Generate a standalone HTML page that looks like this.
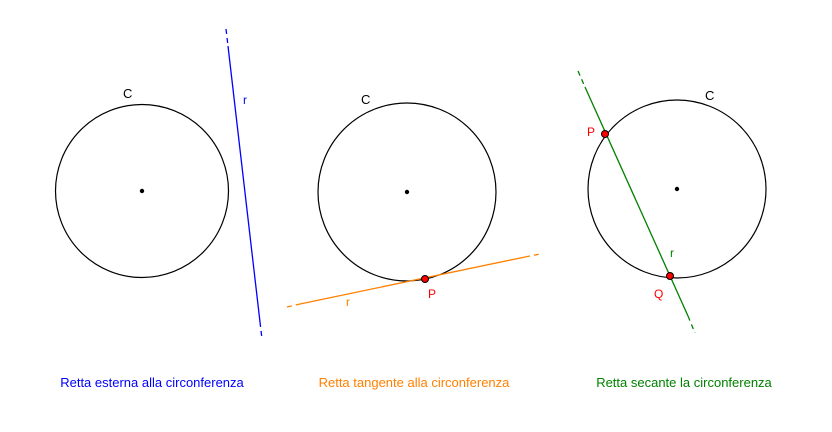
<!DOCTYPE html>
<html><head><meta charset="utf-8"><style>
body{margin:0;background:#fff}
svg{display:block;font-family:"Liberation Sans","DejaVu Sans",sans-serif}
</style></head><body>
<svg width="832" height="432" viewBox="0 0 832 432">
<g>
<circle cx="142" cy="191" r="86.5" fill="none" stroke="#000" stroke-width="1.2"/>
<circle cx="142" cy="191" r="2.2" fill="#000"/>
<line x1="228" y1="46" x2="260" y2="322" stroke="#0000ff" stroke-width="1.3"/>
<line x1="226" y1="29" x2="228" y2="46" stroke="#0000ff" stroke-width="1.3" stroke-dasharray="5,4"/>
<line x1="260" y1="322" x2="262" y2="339" stroke="#0000ff" stroke-width="1.3" stroke-dasharray="5,4"/>
<text x="123" y="98" font-size="13" fill="#000">C</text>
<text x="243" y="104" font-size="12" fill="#0000ff">r</text>
<text x="152" y="387" font-size="13" fill="#0000ff" text-anchor="middle">Retta esterna alla circonferenza</text>
</g>
<g>
<circle cx="407" cy="192" r="89" fill="none" stroke="#000" stroke-width="1.2"/>
<circle cx="407" cy="192" r="2.2" fill="#000"/>
<line x1="300" y1="304" x2="525" y2="257" stroke="#ff8000" stroke-width="1.3"/>
<line x1="287" y1="307" x2="300" y2="304" stroke="#ff8000" stroke-width="1.3" stroke-dasharray="5,4"/>
<line x1="525" y1="257" x2="540" y2="254" stroke="#ff8000" stroke-width="1.3" stroke-dasharray="5,4"/>
<circle cx="425" cy="279" r="3.5" fill="#ff0000" stroke="#000" stroke-width="1"/>
<text x="361" y="104" font-size="13" fill="#000">C</text>
<text x="346" y="306" font-size="12" fill="#ff8000">r</text>
<text x="428" y="298" font-size="12" fill="#ff0000">P</text>
<text x="414" y="387" font-size="13" fill="#ff8000" text-anchor="middle">Retta tangente alla circonferenza</text>
</g>
<g>
<circle cx="677" cy="189" r="89" fill="none" stroke="#000" stroke-width="1.2"/>
<circle cx="677" cy="189" r="2.2" fill="#000"/>
<line x1="585" y1="87" x2="688" y2="316" stroke="#008000" stroke-width="1.3"/>
<line x1="578" y1="71" x2="585" y2="87" stroke="#008000" stroke-width="1.3" stroke-dasharray="5,4"/>
<line x1="688" y1="316" x2="695" y2="333" stroke="#008000" stroke-width="1.3" stroke-dasharray="5,4"/>
<circle cx="605" cy="134" r="3.5" fill="#ff0000" stroke="#000" stroke-width="1"/>
<circle cx="670" cy="276" r="3.5" fill="#ff0000" stroke="#000" stroke-width="1"/>
<text x="705" y="100" font-size="13" fill="#000">C</text>
<text x="670" y="257" font-size="12" fill="#008000">r</text>
<text x="587" y="136" font-size="12" fill="#ff0000">P</text>
<text x="654" y="298" font-size="12" fill="#ff0000">Q</text>
<text x="684" y="387" font-size="13" fill="#008000" text-anchor="middle">Retta secante la circonferenza</text>
</g>
</svg>
</body></html>
